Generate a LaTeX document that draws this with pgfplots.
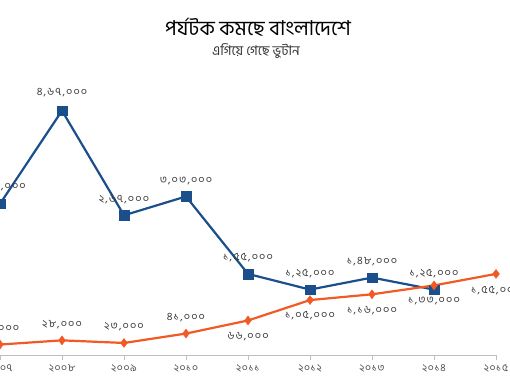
\documentclass[border=0pt]{standalone}
\usepackage{fontspec}
\setmainfont{Hind Siliguri}[Script=Bengali]
\newfontfamily\labfont{Hind Siliguri}[Script=Bengali, LetterSpace=10]
\newfontfamily\tickfont{Hind Siliguri}[Script=Bengali, LetterSpace=6]
\usepackage{pgfplots}
\usepackage{pgfplotstable}
\pgfplotsset{compat=1.18}
\definecolor{bdblue}{HTML}{1A4F8B}
\definecolor{btorange}{HTML}{F15A24}
\definecolor{labgray}{HTML}{3A3A3A}
\pgfplotstableread{
x y lab dy
2007 289000 ২,৮৯,০০০ 17
2008 467000 ৪,৬৭,০০০ 18
2009 267000 ২,৬৭,০০০ 16
2010 303000 ৩,০৩,০০০ 16
2011 155000 ১,৫৫,০০০ 16
2012 125000 ১,২৫,০০০ 16
2013 148000 ১,৪৮,০০০ 16
2014 125000 ১,২৫,০০০ 16
}\bangladesh
\pgfplotstableread{
x y lab dy
2007 20000 ২০,০০০ 16
2008 28000 ২৮,০০০ 16
2009 23000 ২৩,০০০ 16
2010 41000 ৪১,০০০ 16
2011 66000 ৬৬,০০০ -16
2012 105000 ১,০৫,০০০ -16
2013 116000 ১,১৬,০০০ -16
2014 133000 ১,৩৩,০০০ -16
2015 155000 ১,৫৫,০০০ -17
}\bhutan
\begin{document}
\begin{tikzpicture}
\path[use as bounding box, clip] (0pt,0pt) rectangle (510pt,383pt);
\begin{axis}[
  at={(0pt,28pt)}, anchor=south west,
  scale only axis, width=496pt, height=261.6pt,
  xmin=2007, xmax=2015, ymin=0, ymax=500000,
  axis y line=none, axis x line*=bottom,
  x axis line style={-, draw=black!25, line width=0.8pt},
  clip=false,
  xtick={2007,...,2015},
  xticklabels={২০০৭,২০০৮,২০০৯,২০১০,২০১১,২০১২,২০১৩,২০১৪,২০১৫},
  tick align=outside, major tick length=5pt,
  x tick style={draw=black!25, line width=0.8pt},
  x tick label style={font=\tickfont\fontsize{10.5}{12}\selectfont, text=black!70, yshift=-1pt},
  every node near coord/.append style={anchor=center, inner sep=0pt, text=labgray, font=\labfont\fontsize{11}{12}\selectfont},
]
\addplot[bdblue, line width=2.2pt, mark=square*, mark size=4.8pt, mark options={solid, line width=0.4pt},
  nodes near coords, point meta=explicit symbolic,
  visualization depends on={\thisrow{dy} \as \dy},
  every node near coord/.append style={yshift=\dy pt}]
  table[x=x, y=y, meta=lab] {\bangladesh};
\addplot[btorange, line width=2.2pt, mark=diamond*, mark size=4.5pt, mark options={solid, line width=0.4pt},
  nodes near coords, point meta=explicit symbolic,
  visualization depends on={\thisrow{dy} \as \dy},
  every node near coord/.append style={yshift=\dy pt}]
  table[x=x, y=y, meta=lab] {\bhutan};
\end{axis}
\node[font=\fontsize{20.5}{24}\selectfont, text=black] at (258pt,356pt) {পর্যটক কমছে বাংলাদেশে};
\node[font=\fontsize{13.5}{16}\selectfont, text=black!80] at (256pt,332pt) {এগিয়ে গেছে ভুটান};
\end{tikzpicture}
\end{document}
